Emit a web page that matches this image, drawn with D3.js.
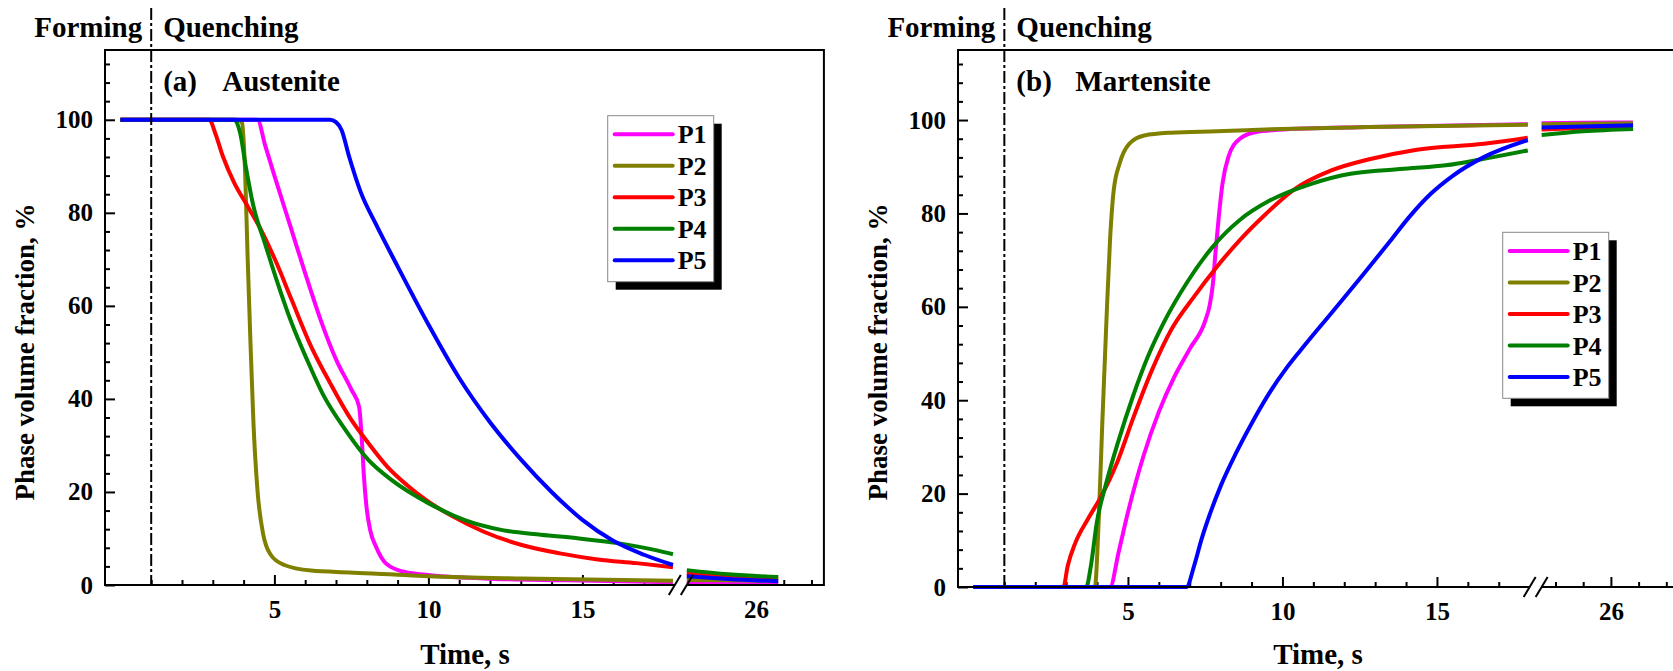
<!DOCTYPE html>
<html lang="en">
<head>
<meta charset="UTF-8" />
<title>Phase volume fraction</title>
<style>
  body { margin: 0; background: #fff; }
  text { font-family: "Liberation Serif", "Times New Roman", serif; font-weight: bold; fill: #000; }
</style>
</head>
<body>
<svg id="svg" width="1673" height="671"></svg>
<script src="https://d3js.org/d3.v7.min.js"></script>
<script>
// series
const seriesNames = ['P1', 'P2', 'P3', 'P4', 'P5'];
const seriesColors = ['#ff00ff', '#808000', '#ff0000', '#008000', '#0000ff'];

// ticks
const xMajorTicks = [5, 10, 15];
const xMinorTicks = [1, 2, 3, 4, 6, 7, 8, 9, 11, 12, 13, 14, 16, 17];
const xLateMajor = [26];
const xLateMinor = [24, 25, 27, 28];
const yMajorTicks = [0, 20, 40, 60, 80, 100];
const yMinorTicks = [4, 8, 12, 16, 24, 28, 32, 36, 44, 48, 52, 56, 64, 68, 72, 76, 84, 88, 92, 96, 104, 108, 112];

// (a) Austenite, time s / fraction %
const austP1 = [[0,100],[4.45,100],[4.7,94.5],[5,88],[5.5,77.5],[6,67],[6.5,57],[7,48.5],[7.5,42],[7.75,38.3],[7.84,31.2],[7.9,24],[7.99,16.8],[8.11,11.8],[8.3,8.2],[8.61,4.7],[9.17,2.9],[9.92,2.2],[11.8,1.4],[14.5,1.0],[17.94,0.6]];
const austP2 = [[0,100],[3.82,100],[3.95,99.3],[4.05,88.5],[4.13,70.6],[4.22,52.7],[4.32,34.8],[4.45,20.4],[4.63,11.1],[4.88,6.5],[5.32,4.3],[6.19,3.1],[7.43,2.7],[10,1.9],[13.03,1.4],[17.94,0.9]];
const austP3 = [[0,100],[2.89,100],[3.08,97.1],[3.33,92.1],[3.7,86.4],[4.07,82.1],[4.57,76.3],[5.07,69.2],[5.56,61.3],[6.19,51.3],[6.81,43.4],[7.43,36.2],[8.05,30.5],[8.67,25.4],[9.3,21.5],[10,17.9],[10.8,14.7],[11.78,11.5],[13.03,8.6],[14.27,6.8],[15.5,5.5],[16.76,4.7],[17.94,3.8]];
const austP4 = [[0,100],[3.7,100],[3.89,97.1],[4.07,90],[4.32,81.4],[4.69,73.5],[5.07,65.6],[5.56,56.3],[6.06,48.4],[6.56,41.2],[7.31,33.3],[8.05,26.9],[8.8,22.6],[10,17.6],[11.16,14],[12.4,11.8],[13.65,10.8],[14.9,10],[16.14,9],[17.38,7.5],[17.94,6.6]];
const austP5 = [[0,100],[6.81,100],[7.0,99.5],[7.18,97.8],[7.43,92],[7.8,84.5],[8.3,77.5],[9,68.5],[10,56],[11,44.5],[12,35],[13,27],[14,20],[15,14],[16,9.5],[17,6.5],[17.94,4.3]];
const austLateP1 = [[23.5,0.5],[25,0.45],[26.8,0.4]];
const austLateP2 = [[23.5,1.1],[25,1.0],[26.8,0.9]];
const austLateP3 = [[23.5,2.5],[25,1.9],[26.8,1.4]];
const austLateP4 = [[23.5,3.2],[25,2.3],[26.8,1.7]];
const austLateP5 = [[23.5,1.9],[25,1.3],[26.8,0.8]];

// (b) Martensite
const martP1 = [[0,0],[4.42,0],[4.7,7.5],[5,16],[5.5,28],[6,37.5],[6.5,45],[7,51],[7.5,57],[7.65,60.5],[7.75,65],[7.84,72.2],[7.94,79.3],[8.06,86.4],[8.25,92.1],[8.62,96],[9.11,97.4],[9.85,97.9],[12.8,98.5],[17.94,99.1]];
const martP2 = [[0,0],[3.93,0],[4.05,13.7],[4.17,35.1],[4.3,56.5],[4.42,74.3],[4.54,85],[4.73,90.7],[5.04,94.9],[5.53,96.7],[6.4,97.3],[7.88,97.6],[9.98,98.1],[12.8,98.5],[17.94,99]];
const martP3 = [[0,0],[2.91,0],[3.05,4.5],[3.3,9.5],[3.7,14.5],[4.1,19],[4.67,27],[5.16,36],[5.78,46.5],[6.4,55.1],[7.14,62.2],[7.88,68.6],[8.62,74.3],[9.48,80],[10.35,85],[11.58,89.2],[12.81,91.6],[14.3,93.6],[16.52,94.9],[17.94,96.2]];
const martP4 = [[0,0],[3.65,0],[3.8,4.5],[3.99,13.7],[4.3,22.3],[4.67,30.8],[5.16,40.8],[5.65,49.4],[6.15,56.5],[6.89,65],[7.75,72.9],[8.62,78.6],[9.6,82.8],[10.96,86.4],[12.2,88.5],[14.05,89.6],[15.28,90.3],[16.52,91.7],[17.94,93.5]];
const martP5 = [[0,0],[6.89,0],[7.14,4.5],[7.38,10.2],[7.63,15.2],[8,21.6],[8.5,28.7],[9.1,36.2],[9.6,41.8],[10.1,46.6],[10.6,50.8],[11.6,58.8],[12.6,66.8],[13.5,74.2],[14.1,79.2],[14.8,84.2],[15.5,88],[16.5,92],[17.94,95.7]];
const martLateP1 = [[23.5,99.3],[25,99.4],[26.8,99.5]];
const martLateP2 = [[23.5,99.1],[25,99.2],[26.8,99.3]];
const martLateP3 = [[23.5,98.0],[25,98.3],[26.8,98.6]];
const martLateP4 = [[23.5,96.8],[25,97.6],[26.8,98.1]];
const martLateP5 = [[23.5,98.4],[25,98.6],[26.8,98.9]];

const svg = d3.select('#svg');

function drawPanel(cfg) {
  const g = svg.append('g');
  const x1 = d3.scaleLinear().domain([-0.5, 18]).range([cfg.x0, cfg.x0 + 18.5 * cfg.unit]);
  const b1 = x1(18), b2 = b1 + 12;
  const x2 = d3.scaleLinear().domain([23.5, 28.45]).range([b2, b2 + 4.95 * 27.7]);
  const right = x2(28.45);
  const y = d3.scaleLinear().domain([0, 115]).range([cfg.bottom, cfg.top]);
  const fmt = d3.format('d');

  // y axis ticks
  const yMaj = g.append('g').attr('transform', `translate(${cfg.x0},0)`)
    .call(d3.axisLeft(y).tickValues(yMajorTicks).tickSize(-10).tickPadding(12).tickFormat(fmt));
  const yMin = g.append('g').attr('transform', `translate(${cfg.x0},0)`)
    .call(d3.axisLeft(y).tickValues(yMinorTicks).tickSize(-5).tickFormat(''));
  // x axis ticks, both sides of the break
  const xa = g.append('g').attr('transform', `translate(0,${cfg.bottom})`)
    .call(d3.axisBottom(x1).tickValues(xMajorTicks).tickSize(-10).tickPadding(15).tickFormat(fmt));
  const xb = g.append('g').attr('transform', `translate(0,${cfg.bottom})`)
    .call(d3.axisBottom(x1).tickValues(xMinorTicks).tickSize(-5).tickFormat(''));
  const xc = g.append('g').attr('transform', `translate(0,${cfg.bottom})`)
    .call(d3.axisBottom(x2).tickValues(xLateMajor).tickSize(-10).tickPadding(15).tickFormat(fmt));
  const xd = g.append('g').attr('transform', `translate(0,${cfg.bottom})`)
    .call(d3.axisBottom(x2).tickValues(xLateMinor).tickSize(-5).tickFormat(''));
  [yMaj, yMin, xa, xb, xc, xd].forEach(a => {
    a.select('.domain').remove();
    a.selectAll('line').attr('stroke', '#000').attr('stroke-width', 2);
    a.selectAll('text').style('font-size', '25px').style('font-family', '"Liberation Serif", serif').style('font-weight', 'bold');
  });

  // curves
  const line1 = d3.line().x(d => x1(d[0])).y(d => y(d[1])).curve(d3.curveMonotoneX);
  const line2 = d3.line().x(d => x2(d[0])).y(d => y(d[1])).curve(d3.curveMonotoneX);
  cfg.early.forEach((s, i) => {
    g.append('path').attr('d', line1(s)).attr('fill', 'none')
      .attr('stroke', seriesColors[i]).attr('stroke-width', 4);
  });
  cfg.late.forEach((s, i) => {
    g.append('path').attr('d', line2(s)).attr('fill', 'none')
      .attr('stroke', seriesColors[i]).attr('stroke-width', 4);
  });

  // frame with the axis break
  const frame = g.append('g').attr('stroke', '#000').attr('stroke-width', 2).attr('fill', 'none');
  frame.append('path').attr('d', `M${b1},${cfg.bottom}H${cfg.x0}V${cfg.top}H${right}V${cfg.bottom}H${b2}`);
  [b1, b2].forEach(b => {
    frame.append('line').attr('x1', b - 6).attr('y1', cfg.bottom + 10)
      .attr('x2', b + 6).attr('y2', cfg.bottom - 10);
  });

  // forming / quenching boundary
  const xq = x1(1);
  g.append('line').attr('x1', xq).attr('x2', xq).attr('y1', 8).attr('y2', cfg.bottom)
    .attr('stroke', '#000').attr('stroke-width', 2).attr('stroke-dasharray', '12,3,3,3');
  g.append('text').attr('x', xq - 9).attr('y', 37).attr('text-anchor', 'end')
    .style('font-size', '29px').text('Forming');
  g.append('text').attr('x', xq + 12).attr('y', 37).style('font-size', '29px').text('Quenching');
  g.append('text').attr('x', xq + 12).attr('y', 91).style('font-size', '29px').text(cfg.tag);
  g.append('text').attr('x', xq + 71).attr('y', 91).style('font-size', '29px').text(cfg.phase);

  // axis titles
  g.append('text').attr('transform', `translate(${cfg.x0 - 80},352) rotate(-90)`)
    .attr('text-anchor', 'middle').attr('dy', '0.35em').style('font-size', '27px')
    .text('Phase volume fraction, %');
  g.append('text').attr('x', cfg.x0 + 360).attr('y', 664).attr('text-anchor', 'middle')
    .style('font-size', '29px').text('Time, s');

  // legend with drop shadow
  const lx = cfg.x0 + cfg.legX, ly = cfg.top + cfg.legY, lw = 106, lh = 166;
  const leg = g.append('g');
  leg.append('rect').attr('x', lx + 8).attr('y', ly + 8).attr('width', lw).attr('height', lh).attr('fill', '#000');
  leg.append('rect').attr('x', lx).attr('y', ly).attr('width', lw).attr('height', lh)
    .attr('fill', '#fff').attr('stroke', '#888').attr('stroke-width', 1);
  seriesNames.forEach((n, i) => {
    const yy = ly + 18.6 + i * 31.5;
    leg.append('line').attr('x1', lx + 7).attr('x2', lx + 65).attr('y1', yy).attr('y2', yy)
      .attr('stroke', seriesColors[i]).attr('stroke-width', 4).attr('stroke-linecap', 'round');
    leg.append('text').attr('x', lx + 70).attr('y', yy).attr('dy', '0.35em')
      .style('font-size', '26px').text(n);
  });
}

drawPanel({
  x0: 105, unit: 30.8, top: 50, bottom: 585, tag: '(a)', phase: 'Austenite',
  legX: 502.7, legY: 65.7,
  early: [austP1, austP2, austP3, austP4, austP5],
  late: [austLateP1, austLateP2, austLateP3, austLateP4, austLateP5]
});
drawPanel({
  x0: 958, unit: 30.9, top: 50, bottom: 587, tag: '(b)', phase: 'Martensite',
  legX: 544.7, legY: 182.3,
  early: [martP1, martP2, martP3, martP4, martP5],
  late: [martLateP1, martLateP2, martLateP3, martLateP4, martLateP5]
});
</script>
</body>
</html>
